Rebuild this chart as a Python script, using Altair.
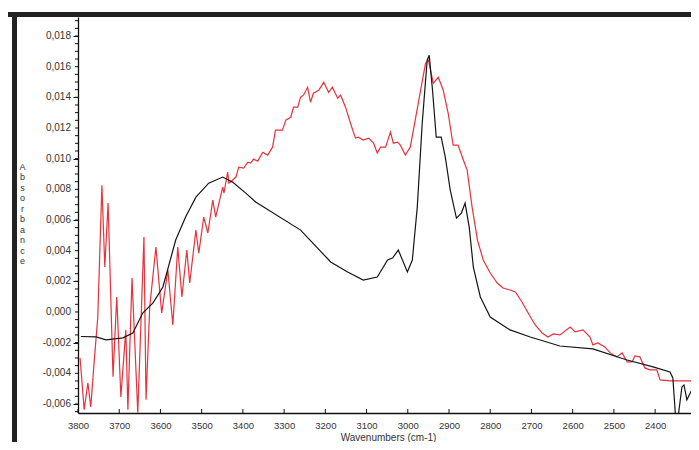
import altair as alt
import pandas as pd

# Black spectrum (wavenumber cm-1, absorbance)
black_wn = [3793, 3756, 3732, 3691, 3667, 3643, 3618, 3594, 3563, 3539, 3514, 3483,
            3449, 3425, 3393, 3369, 3260, 3187, 3146, 3108, 3074, 3049, 3037, 3023,
            3001, 2989, 2977, 2965, 2953, 2948, 2940, 2931, 2919, 2909, 2897, 2882,
            2870, 2861, 2851, 2841, 2824, 2800, 2752, 2703, 2631, 2551, 2468, 2405,
            2364, 2357, 2350, 2345, 2335, 2330, 2323, 2311, 2299]
black_abs = [-0.00160, -0.00163, -0.00182, -0.00169, -0.00137, -0.00007, 0.00059, 0.00163,
             0.00469, 0.00619, 0.00749, 0.00840, 0.00880, 0.00847, 0.00775, 0.00717,
             0.00534, 0.00326, 0.00261, 0.00208, 0.00228, 0.00339, 0.00352, 0.00404,
             0.00261, 0.00339, 0.00684, 0.01231, 0.01642, 0.01674, 0.01446, 0.01140,
             0.01140, 0.01010, 0.00795, 0.00612, 0.00645, 0.00710, 0.00554, 0.00293,
             0.00098, -0.00033, -0.00117, -0.00163, -0.00222, -0.00241, -0.00313,
             -0.00358, -0.00391, -0.00430, -0.00700, -0.00700, -0.00489, -0.00476,
             -0.00573, -0.00508, -0.00456]

# Red spectrum
red_wn = [3795, 3785, 3776, 3769, 3761, 3752, 3742, 3735, 3727, 3715, 3706, 3696,
          3684, 3679, 3669, 3655, 3640, 3635, 3626, 3611, 3597, 3582, 3570, 3558,
          3548, 3536, 3529, 3514, 3507, 3495, 3485, 3473, 3466, 3449, 3446, 3437,
          3434, 3430, 3417, 3410, 3398, 3388, 3381, 3374, 3364, 3352, 3340, 3328,
          3321, 3304, 3296, 3284, 3277, 3267, 3260, 3253, 3243, 3236, 3229, 3216,
          3204, 3192, 3183, 3170, 3163, 3151, 3139, 3127, 3120, 3108, 3095, 3083,
          3074, 3066, 3054, 3042, 3035, 3025, 3018, 3006, 2994, 2982, 2969, 2957,
          2950, 2945, 2938, 2926, 2914, 2902, 2890, 2878, 2865, 2856, 2844, 2831,
          2817, 2800, 2783, 2769, 2752, 2739, 2723, 2708, 2691, 2674, 2660, 2647,
          2631, 2606, 2594, 2575, 2558, 2551, 2539, 2522, 2509, 2493, 2480, 2468,
          2456, 2449, 2437, 2425, 2413, 2396, 2388, 2364, 2294]
red_abs = [-0.00300, -0.00638, -0.00463, -0.00619, -0.00332, -0.00033, 0.00827, 0.00293,
           0.00710, -0.00423, 0.00098, -0.00554, -0.00117, -0.00638, 0.00222, -0.00658,
           0.00489, -0.00573, 0.00033, 0.00423, -0.00007, 0.00274, -0.00085, 0.00423,
           0.00098, 0.00404, 0.00189, 0.00534, 0.00384, 0.00619, 0.00515, 0.00730,
           0.00619, 0.00814, 0.00775, 0.00912,
           0.00840, 0.00847, 0.00880, 0.00945, 0.00938, 0.00977, 0.00971, 0.00997,
           0.00984, 0.01042, 0.01023, 0.01075, 0.01186, 0.01186, 0.01251, 0.01270,
           0.01336, 0.01336, 0.01401, 0.01414, 0.01466, 0.01368, 0.01427, 0.01446,
           0.01498, 0.01433, 0.01466, 0.01394, 0.01414, 0.01336, 0.01231, 0.01134,
           0.01140, 0.01121, 0.01134, 0.01101, 0.01036, 0.01075, 0.01075, 0.01173,
           0.01101, 0.01108, 0.01088, 0.01023, 0.01075, 0.01251, 0.01446, 0.01622,
           0.01642, 0.01577, 0.01492, 0.01531, 0.01446, 0.01296, 0.01088, 0.01088,
           0.00990, 0.00925, 0.00684, 0.00469, 0.00339, 0.00254, 0.00189, 0.00156,
           0.00143, 0.00130, 0.00065, -0.00007, -0.00085, -0.00137, -0.00163, -0.00143,
           -0.00150, -0.00098, -0.00130, -0.00117, -0.00163, -0.00215, -0.00202, -0.00228,
           -0.00267, -0.00293, -0.00267, -0.00326, -0.00326, -0.00287, -0.00293, -0.00365,
           -0.00378, -0.00378, -0.00443, -0.00450, -0.00450]

x_ticks = [3800, 3700, 3600, 3500, 3400, 3300, 3200, 3100, 3000, 2900, 2800, 2700, 2600, 2500, 2400]
y_ticks = [-0.006, -0.004, -0.002, 0.0, 0.002, 0.004, 0.006, 0.008, 0.010, 0.012, 0.014, 0.016, 0.018]
y_labels = ["-0,006", "-0,004", "-0,002", "0,000", "0,002", "0,004", "0,006",
            "0,008", "0,010", "0,012", "0,014", "0,016", "0,018"]
y_minor = [v / 10000 for v in range(-65, 191, 5)]
y_title = ["A", "b", "s", "o", "r", "b", "a", "n", "c", "e"]

W, H = 613, 396
X_DOMAIN = [3800, 2313]
Y_DOMAIN = [-0.00659, 0.01924]

df = pd.concat([
    pd.DataFrame({"wn": red_wn, "abs": red_abs, "s": "red"}),
    pd.DataFrame({"wn": black_wn, "abs": black_abs, "s": "black"}),
])

xscale = alt.Scale(domain=X_DOMAIN, zero=False, nice=False)
yscale = alt.Scale(domain=Y_DOMAIN, zero=False, nice=False)

FONT = "Liberation Sans"
TXT = "#333333"

base = alt.Chart(df)

red = base.transform_filter(alt.datum.s == "red").mark_line(
    color="#e8323c", strokeWidth=1.2, clip=True
).encode(
    x=alt.X("wn:Q", scale=xscale, axis=alt.Axis(
        values=x_ticks, format="d", tickSize=0, labelPadding=7,
        labelFontSize=9.5, labelColor=TXT, labelFont=FONT, labelFlush=False,
        labelOverlap=False,
        domainColor="#111111", domainWidth=1.3, grid=False,
        title="Wavenumbers (cm-1)", titleFont=FONT, titleFontSize=10,
        titleFontWeight="normal", titleColor=TXT, titleX=310, titleY=29,
        titleBaseline="bottom", titleAlign="center")),
    y=alt.Y("abs:Q", scale=yscale, axis=alt.Axis(
        values=y_ticks, tickSize=5, tickColor="#111111", labels=False,
        domainColor="#111111", domainWidth=1.3, grid=False,
        title=y_title, titleAngle=0, titleX=-56, titleY=145, titleAlign="center",
        titleBaseline="top", titleFont=FONT, titleFontSize=9, titleFontWeight="normal",
        titleColor=TXT, titleLineHeight=10.5)),
)

black = base.transform_filter(alt.datum.s == "black").mark_line(
    color="#151515", strokeWidth=1.2, clip=True
).encode(
    x=alt.X("wn:Q", scale=xscale),
    y=alt.Y("abs:Q", scale=yscale),
)

xt = alt.Chart(pd.DataFrame({"wn": x_ticks})).mark_rule(color="#111111", strokeWidth=1).encode(
    x=alt.X("wn:Q", scale=xscale),
    y=alt.value(H - 4), y2=alt.value(H),
)

yt = alt.Chart(pd.DataFrame({"abs": y_minor})).mark_rule(color="#111111", strokeWidth=1).encode(
    y=alt.Y("abs:Q", scale=yscale),
    x=alt.value(-3), x2=alt.value(0),
)

ylab = alt.Chart(pd.DataFrame({"abs": y_ticks, "lab": y_labels})).mark_text(
    align="right", baseline="middle", font=FONT, fontSize=10, color=TXT, dx=-7
).encode(
    y=alt.Y("abs:Q", scale=yscale),
    x=alt.value(0),
    text="lab:N",
)

one = alt.Data(values=[{"k": 1}])
frame_top = alt.Chart(one).mark_rule(color="#222222", strokeWidth=5).encode(
    x=alt.value(-70), x2=alt.value(W), y=alt.value(-2.5)
)
frame_left = alt.Chart(one).mark_rule(color="#222222", strokeWidth=5).encode(
    x=alt.value(-63.5), y=alt.value(-5), y2=alt.value(H + 40)
)

chart = alt.layer(red, black, xt, yt, ylab, frame_top, frame_left).properties(
    width=W, height=H,
    autosize=alt.AutoSizeParams(type="none"),
    padding={"left": 70, "top": 9, "right": 0, "bottom": 29},
    background="white",
).configure_view(stroke="transparent")

chart.save("out.html", embed_options={"renderer": "svg", "actions": False})
